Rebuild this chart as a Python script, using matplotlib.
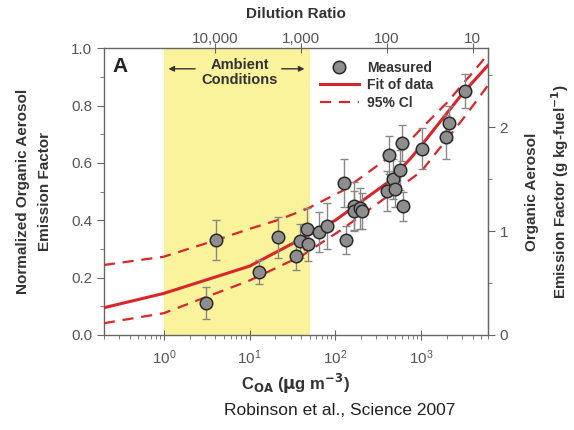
import numpy as np
import matplotlib
matplotlib.use("Agg")
import matplotlib.pyplot as plt
from matplotlib.lines import Line2D
from matplotlib.ticker import FixedLocator, NullFormatter, LogLocator, FixedFormatter

plt.rcParams['font.family'] = ['Liberation Sans', 'DejaVu Sans']

# Measured data
coa = [3.1, 4.1, 13.0, 21.7, 34.9, 38.5, 46.9, 48.2, 65.2, 80, 127, 132, 163, 166, 192, 206,
       425, 405, 464, 499, 560, 601, 613, 1036, 1938, 2117, 3250]
ef = [0.110, 0.331, 0.221, 0.340, 0.274, 0.329, 0.370, 0.316, 0.360, 0.381, 0.531, 0.331,
      0.449, 0.432, 0.441, 0.433, 0.627, 0.502, 0.545, 0.509, 0.575, 0.668, 0.448, 0.650,
      0.689, 0.740, 0.850]
err = [0.056, 0.070, 0.042, 0.070, 0.049, 0.059, 0.073, 0.059, 0.070, 0.080, 0.084, 0.049,
       0.084, 0.070, 0.070, 0.063, 0.066, 0.070, 0.070, 0.063, 0.070, 0.063, 0.052, 0.070,
       0.077, 0.060, 0.060]

# Fit of data
fit_c = [0.2, 1, 10, 50, 100, 400, 750, 1000, 3000, 6000]
fit_v = [0.095, 0.145, 0.24, 0.35, 0.40, 0.53, 0.615, 0.66, 0.84, 0.94]

# 95% CI
up_c = [0.2, 1, 4, 10, 21, 47, 125, 400, 750, 1170, 2000, 5000, 6000]
up_v = [0.244, 0.273, 0.33, 0.37, 0.40, 0.44, 0.505, 0.615, 0.68, 0.74, 0.81, 0.95, 0.98]
lo_c = [0.2, 1, 10, 40, 115, 300, 1000, 3200, 6000]
lo_v = [0.041, 0.076, 0.19, 0.275, 0.365, 0.455, 0.57, 0.76, 0.87]

ambient = (1, 50)
dil_const = 40000.0
dil_ticks = [10000, 1000, 100, 10]
dil_labels = ['10,000', '1,000', '100', '10']
ef_scale = 2.76

red = '#d8262a'
txt = '#333333'
spine = '#666666'
ticklab = '#555555'

fig = plt.figure(figsize=(5.74, 4.30), dpi=100)
ax = fig.add_axes([0.181, 0.221, 0.669, 0.667])
ax.set_xscale('log')
ax.set_xlim(0.2, 6000)
ax.set_ylim(0, 1.0)

ax.axvspan(ambient[0], ambient[1], color='#fbf29c', zorder=0, lw=0)

ax.plot(fit_c, fit_v, color=red, lw=2.2, zorder=3)
ax.plot(up_c, up_v, color=red, lw=1.6, ls=(0, (5, 3.5)), zorder=3)
ax.plot(lo_c, lo_v, color=red, lw=1.6, ls=(0, (5, 3.5)), zorder=3)

mstyle = dict(marker='o', ms=9, mfc='#8e8e8e', mec='#2a2a2a', mew=1.1)
ax.errorbar(coa, ef, yerr=err, fmt='none', ecolor='#888888', elinewidth=1.0, capsize=3,
            capthick=1.0, zorder=4)
ax.plot(coa, ef, ls='none', zorder=5, **mstyle)

for s in ax.spines.values():
    s.set_color(spine)
    s.set_linewidth(1.0)

ax.yaxis.set_major_locator(FixedLocator([0, 0.2, 0.4, 0.6, 0.8, 1.0]))
ax.yaxis.set_minor_locator(FixedLocator([0.1, 0.3, 0.5, 0.7, 0.9]))
ax.set_yticklabels(['0.0', '0.2', '0.4', '0.6', '0.8', '1.0'])
ax.tick_params(axis='y', which='major', direction='out', length=5, color=spine,
               labelsize=11, labelcolor=ticklab, right=False)
ax.tick_params(axis='y', which='minor', direction='out', length=3, color=spine, right=False)
ax.xaxis.set_major_locator(LogLocator(base=10, numticks=10))
ax.xaxis.set_minor_locator(LogLocator(base=10, subs=np.arange(2, 10), numticks=20))
ax.xaxis.set_minor_formatter(NullFormatter())
ax.tick_params(axis='x', which='major', direction='inout', length=7, color=spine,
               labelsize=11, labelcolor=ticklab, top=False, pad=6)
ax.tick_params(axis='x', which='minor', direction='out', length=3, color=spine, top=False)

ax.set_xlabel('C$_{\\mathbf{OA}}$ ($\\mathbf{\\mu}$g m$^{\\mathbf{-3}}$)', fontsize=12,
              fontweight='bold', color=txt, labelpad=4)
ax.set_ylabel('Normalized Organic Aerosol\nEmission Factor', fontsize=11,
              fontweight='bold', color=txt, labelpad=14, linespacing=1.7)

# top axis: dilution ratio
top = ax.twiny()
top.set_xscale('log')
top.set_xlim(ax.get_xlim())
top.xaxis.set_major_locator(FixedLocator([dil_const / d for d in dil_ticks]))
top.xaxis.set_major_formatter(FixedFormatter(dil_labels))
top.xaxis.set_minor_locator(FixedLocator([]))
top.tick_params(axis='x', which='major', direction='inout', length=7, color=spine,
                labelsize=11, labelcolor=ticklab, pad=-2)
for s in top.spines.values():
    s.set_visible(False)
top.set_xlabel('Dilution Ratio', fontsize=11, fontweight='bold', color=txt, labelpad=10)

# right axis
right = ax.secondary_yaxis('right', functions=(lambda y: np.asarray(y) * ef_scale,
                                                lambda y: np.asarray(y) / ef_scale))
right.yaxis.set_major_locator(FixedLocator([0, 1, 2]))
right.yaxis.set_minor_locator(FixedLocator([0.5, 1.5, 2.5]))
right.tick_params(axis='y', which='major', direction='out', length=5, color=spine,
                  labelsize=11, labelcolor=ticklab)
right.tick_params(axis='y', which='minor', direction='out', length=3, color=spine)
right.spines['right'].set_color(spine)
right.set_ylabel('Organic Aerosol\nEmission Factor (g kg-fuel$^{\\mathbf{-1}}$)', fontsize=11,
                 fontweight='bold', color=txt, labelpad=12, linespacing=1.6)

# annotations
ax.text(0.25, 0.935, 'A', fontsize=15, fontweight='bold', color='#222222', va='center')
ax.text(7.6, 0.915, 'Ambient\nConditions', fontsize=10.5, fontweight='bold', color='#333333',
        ha='center', va='center', linespacing=1.1)
ax.annotate('', xy=(1.05, 0.928), xytext=(2.5, 0.928),
            arrowprops=dict(arrowstyle='-|>', color='#333333', lw=1.0, mutation_scale=8))
ax.annotate('', xy=(47, 0.928), xytext=(22, 0.928),
            arrowprops=dict(arrowstyle='-|>', color='#333333', lw=1.0, mutation_scale=8))

handles = [Line2D([], [], ls='none', **mstyle),
           Line2D([], [], color=red, lw=2.2),
           Line2D([], [], color=red, lw=1.6, ls=(0, (5, 3.5)))]
leg = ax.legend(handles, ['Measured', 'Fit of data', '95% Cl'],
                loc='upper left', bbox_to_anchor=(0.53, 1.0), frameon=False,
                handlelength=2.8, handletextpad=0.6, labelspacing=0.25,
                prop={'weight': 'bold', 'size': 10})
for t in leg.get_texts():
    t.set_color('#333333')

fig.text(0.592, 0.045, 'Robinson et al., Science 2007', fontsize=12.5, color='#222222',
         ha='center', va='center')

fig.savefig('out.png', dpi=100)
